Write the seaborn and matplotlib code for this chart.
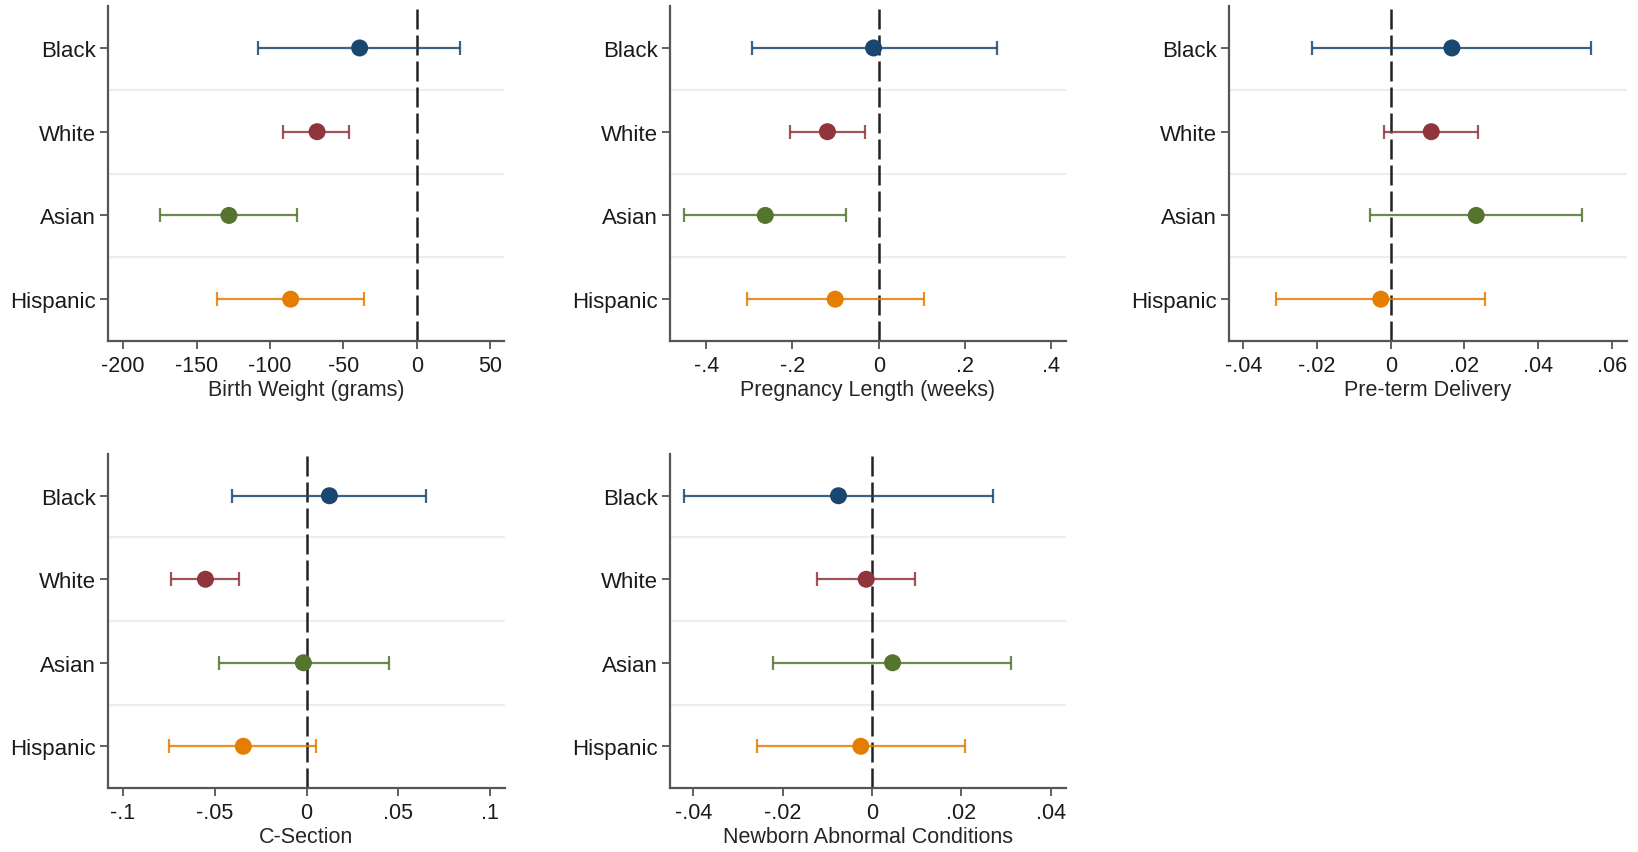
import seaborn as sns
import matplotlib.pyplot as plt
import pandas as pd
import numpy as np

# Seaborn theme setup
sns.set_theme(style="white")
plt.rcParams["font.family"] = ["Liberation Sans", "DejaVu Sans"]

groups = ["Black", "White", "Asian", "Hispanic"]
colors = ["#1a476f", "#90353b", "#55752f", "#e37e00"]

# estimates and 95% CIs, one set per outcome
bw_est = [-39, -68, -128, -86]
bw_lo = [-108, -91, -175, -136]
bw_hi = [29, -46, -82, -36]

pl_est = [-0.012, -0.119, -0.263, -0.101]
pl_lo = [-0.293, -0.205, -0.452, -0.306]
pl_hi = [0.273, -0.033, -0.077, 0.105]

pt_est = [0.0166, 0.0110, 0.0232, -0.0027]
pt_lo = [-0.0214, -0.0019, -0.0056, -0.0311]
pt_hi = [0.0544, 0.0238, 0.0519, 0.0256]

cs_est = [0.0124, -0.0551, -0.0018, -0.0345]
cs_lo = [-0.0404, -0.0740, -0.0478, -0.0749]
cs_hi = [0.0649, -0.0367, 0.0447, 0.0051]

nb_est = [-0.0075, -0.0013, 0.0046, -0.0025]
nb_lo = [-0.0420, -0.0122, -0.0221, -0.0258]
nb_hi = [0.0270, 0.0096, 0.0311, 0.0209]

panels = [
    ("Birth Weight (grams)", bw_est, bw_lo, bw_hi, [-200, -150, -100, -50, 0, 50], (-210.4, 59.3)),
    ("Pregnancy Length (weeks)", pl_est, pl_lo, pl_hi, [-0.4, -0.2, 0, 0.2, 0.4], (-0.484, 0.434)),
    ("Pre-term Delivery", pt_est, pt_lo, pt_hi, [-0.04, -0.02, 0, 0.02, 0.04, 0.06], (-0.0439, 0.064)),
    ("C-Section", cs_est, cs_lo, cs_hi, [-0.1, -0.05, 0, 0.05, 0.1], (-0.1082, 0.108)),
    ("Newborn Abnormal Conditions", nb_est, nb_lo, nb_hi, [-0.04, -0.02, 0, 0.02, 0.04], (-0.0452, 0.0434)),
]

# axes positions in figure fractions (left, bottom, width, height)
positions = [
    (0.0659, 0.599, 0.2418, 0.3927),
    (0.4090, 0.599, 0.2418, 0.3927),
    (0.7503, 0.599, 0.2427, 0.3927),
    (0.0659, 0.075, 0.2424, 0.3916),
    (0.4090, 0.075, 0.2418, 0.3916),
]


def stata_label(v):
    s = f"{round(v, 6):g}"
    if s.startswith("0."):
        s = s[1:]
    elif s.startswith("-0."):
        s = "-" + s[2:]
    return s


fig = plt.figure(figsize=(16.38, 8.53), dpi=100)
ypos = np.arange(len(groups))

for (label, est, lo, hi, ticks, xlim), pos in zip(panels, positions):
    ax = fig.add_axes(pos)
    df = pd.DataFrame({"group": groups, "y": ypos, "est": est, "lo": lo, "hi": hi})

    for y in [0.5, 1.5, 2.5]:
        ax.axhline(y, color="#e8f0f2", lw=1.6, zorder=0)
    ax.axvline(0, color="#222222", lw=1.8, dashes=(8, 2.4), zorder=1)

    for i, row in df.iterrows():
        ax.errorbar(row["est"], row["y"],
                    xerr=[[row["est"] - row["lo"]], [row["hi"] - row["est"]]],
                    fmt="none", ecolor=colors[i], alpha=0.85, elinewidth=1.6,
                    capsize=5, capthick=1.6, zorder=2)
    sns.scatterplot(data=df, x="est", y="y", hue="group", palette=colors,
                    s=150, edgecolor="none", legend=False, ax=ax, zorder=3)

    ax.set_xlim(*xlim)
    ax.set_ylim(3.5, -0.5)
    ax.set_yticks(ypos)
    ax.set_yticklabels(groups, fontsize=16)
    ax.set_xticks(ticks)
    ax.set_xticklabels([stata_label(t) for t in ticks], fontsize=15.5)
    ax.set_xlabel(label, fontsize=15.5, labelpad=2)
    ax.set_ylabel("")

    sns.despine(ax=ax)
    for side in ["left", "bottom"]:
        ax.spines[side].set_color("#555555")
        ax.spines[side].set_linewidth(1.6)
    ax.tick_params(axis="both", direction="out", length=6, width=1.3,
                   bottom=True, left=True,
                   color="#555555", labelcolor="#1a1a1a", pad=3)
    ax.tick_params(axis="x", pad=4)

fig.savefig("out.png", dpi=100)
